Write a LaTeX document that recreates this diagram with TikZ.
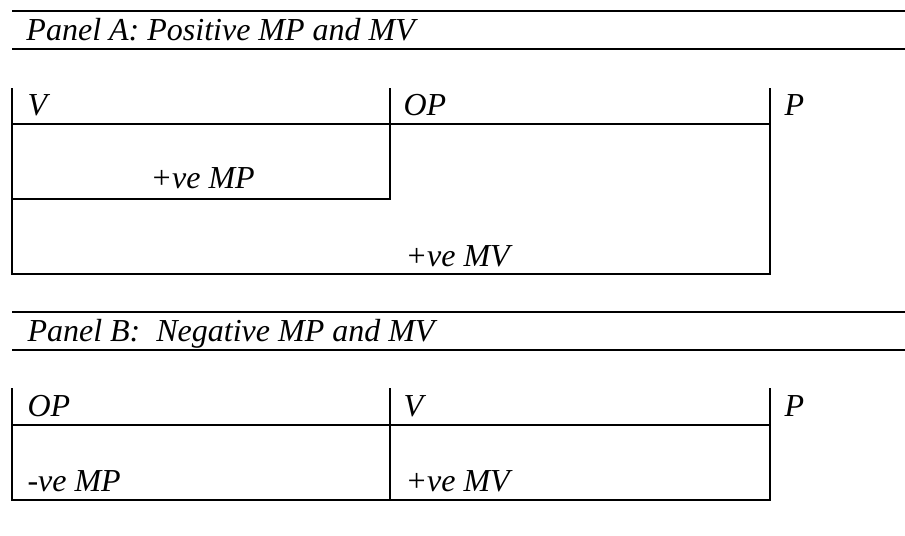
\documentclass[tikz,border=0pt]{standalone}
\usepackage{fontspec}
\setmainfont{Liberation Serif}
\usepackage{tikz}
\tikzset{
    rule/.style={draw, line width=1pt}, % panel title rules
    wall/.style={draw, line width=1pt}, % lines of the value boxes
    lbl/.style={anchor=base west, inner sep=0pt, font=\fontsize{12.8}{15}\selectfont\itshape} % labels
}

\begin{document}
\begin{tikzpicture}[x=0.4pt, y=-0.4pt]
        \useasboundingbox (0, 0) rectangle (905, 535);

        % Panel A
        \coordinate (a_top_l) at (12, 11);
        \coordinate (a_top_r) at (905, 11);
        \coordinate (a_bot_l) at (12, 49);
        \coordinate (a_bot_r) at (905, 49);
        \draw[rule] (a_top_l) to (a_top_r);
        \draw[rule] (a_bot_l) to (a_bot_r);
        \node[lbl] (a_title) at (26, 40) {Panel A: Positive MP and MV};

        \coordinate (a_v) at (12, 88);
        \coordinate (a_op) at (390, 88);
        \coordinate (a_p) at (770, 88);
        \coordinate (a_head_l) at (12, 124);
        \coordinate (a_head_r) at (770, 124);
        \coordinate (a_mp_l) at (12, 199);
        \coordinate (a_mp_r) at (390, 199);
        \coordinate (a_mv_l) at (12, 274);
        \coordinate (a_mv_r) at (770, 274);
        \draw[wall] (a_v) to (a_mv_l) to (a_mv_r) to (a_p);
        \draw[wall] (a_op) to (a_mp_r) to (a_mp_l);
        \draw[wall] (a_head_l) to (a_head_r);
        \node[lbl] (a_v_lbl) at (27, 115) {V};
        \node[lbl] (a_op_lbl) at (403, 115) {OP};
        \node[lbl] (a_p_lbl) at (784, 115) {P};
        \node[lbl] (a_mp_lbl) at (150, 188) {+ve MP};
        \node[lbl] (a_mv_lbl) at (405, 266) {+ve MV};

        % Panel B
        \coordinate (b_top_l) at (12, 312);
        \coordinate (b_top_r) at (905, 312);
        \coordinate (b_bot_l) at (12, 350);
        \coordinate (b_bot_r) at (905, 350);
        \draw[rule] (b_top_l) to (b_top_r);
        \draw[rule] (b_bot_l) to (b_bot_r);
        \node[lbl] (b_title) at (27, 341) {Panel B:\ \ Negative MP and MV};

        \coordinate (b_op) at (12, 388);
        \coordinate (b_v) at (390, 388);
        \coordinate (b_p) at (770, 388);
        \coordinate (b_head_l) at (12, 425);
        \coordinate (b_head_r) at (770, 425);
        \coordinate (b_end_l) at (12, 500);
        \coordinate (b_end_m) at (390, 500);
        \coordinate (b_end_r) at (770, 500);
        \draw[wall] (b_op) to (b_end_l) to (b_end_r) to (b_p);
        \draw[wall] (b_v) to (b_end_m);
        \draw[wall] (b_head_l) to (b_head_r);
        \node[lbl] (b_op_lbl) at (27, 416) {OP};
        \node[lbl] (b_v_lbl) at (403, 416) {V};
        \node[lbl] (b_p_lbl) at (784, 416) {P};
        \node[lbl] (b_mp_lbl) at (27, 491) {-ve MP};
        \node[lbl] (b_mv_lbl) at (405, 491) {+ve MV};
      \end{tikzpicture}
\end{document}
